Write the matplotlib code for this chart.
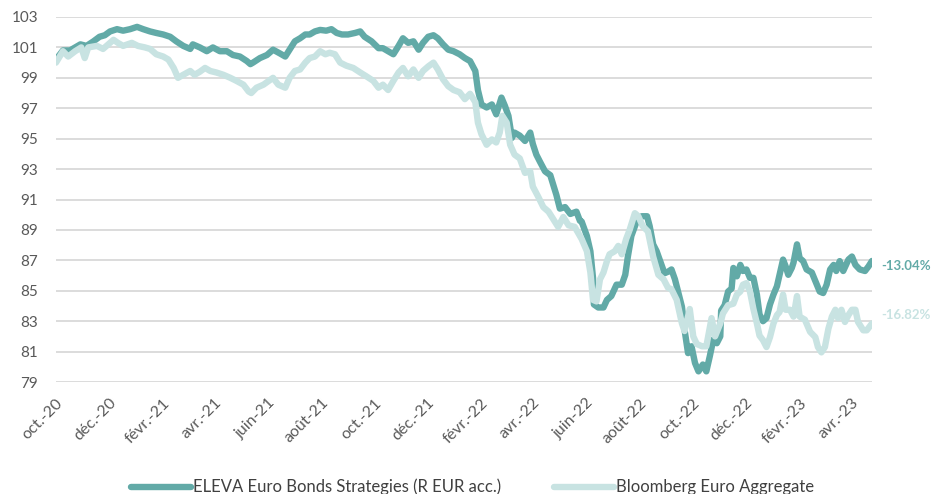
import matplotlib
matplotlib.use("Agg")
import matplotlib.pyplot as plt
import pandas as pd

plt.rcParams['font.family'] = ['Lato', 'DejaVu Sans']

eleva_dates = [
    "2020-10-01", "2020-10-09", "2020-10-17", "2020-10-29", "2020-11-05", "2020-11-13", "2020-11-20",
    "2020-11-26", "2020-12-02", "2020-12-10", "2020-12-17", "2020-12-25", "2021-01-02", "2021-01-09",
    "2021-01-17", "2021-01-24", "2021-02-01", "2021-02-09", "2021-02-16", "2021-02-24", "2021-03-04",
    "2021-03-07", "2021-03-15", "2021-03-23", "2021-03-30", "2021-04-07", "2021-04-15", "2021-04-22",
    "2021-04-30", "2021-05-08", "2021-05-12", "2021-05-15", "2021-05-23", "2021-05-31", "2021-06-07",
    "2021-06-15", "2021-06-21", "2021-06-26", "2021-07-02", "2021-07-08", "2021-07-14", "2021-07-19",
    "2021-07-25", "2021-07-31", "2021-08-07", "2021-08-13", "2021-08-19", "2021-08-25", "2021-09-01",
    "2021-09-09", "2021-09-15", "2021-09-20", "2021-09-28", "2021-10-06", "2021-10-11", "2021-10-17",
    "2021-10-23", "2021-10-29", "2021-11-03", "2021-11-09", "2021-11-15", "2021-11-21", "2021-11-26",
    "2021-12-02", "2021-12-08", "2021-12-13", "2021-12-19", "2021-12-25", "2021-12-31", "2022-01-07",
    "2022-01-13", "2022-01-19", "2022-01-25", "2022-01-28", "2022-02-01", "2022-02-07", "2022-02-13",
    "2022-02-18", "2022-02-24", "2022-02-28", "2022-03-04", "2022-03-08", "2022-03-11", "2022-03-17",
    "2022-03-23", "2022-03-29", "2022-04-01", "2022-04-05", "2022-04-09", "2022-04-15", "2022-04-21",
    "2022-04-24", "2022-04-28", "2022-05-02", "2022-05-08", "2022-05-14", "2022-05-21", "2022-05-25",
    "2022-05-27", "2022-06-02", "2022-06-06", "2022-06-09", "2022-06-10", "2022-06-15", "2022-06-21",
    "2022-06-25", "2022-06-30", "2022-07-06", "2022-07-12", "2022-07-16", "2022-07-19", "2022-07-23",
    "2022-07-29", "2022-08-04", "2022-08-10", "2022-08-13", "2022-08-17", "2022-08-21", "2022-08-25",
    "2022-08-30", "2022-09-03", "2022-09-07", "2022-09-11", "2022-09-15", "2022-09-19", "2022-09-22",
    "2022-09-26", "2022-09-30", "2022-10-04", "2022-10-08", "2022-10-13", "2022-10-17", "2022-10-21",
    "2022-10-25", "2022-10-29", "2022-11-02", "2022-11-03", "2022-11-07", "2022-11-11", "2022-11-15",
    "2022-11-17", "2022-11-21", "2022-11-25", "2022-11-28", "2022-12-02", "2022-12-06", "2022-12-10",
    "2022-12-14", "2022-12-17", "2022-12-21", "2022-12-25", "2022-12-29", "2023-01-02", "2023-01-06",
    "2023-01-09", "2023-01-13", "2023-01-16", "2023-01-19", "2023-01-23", "2023-01-25", "2023-01-29",
    "2023-02-01", "2023-02-05", "2023-02-09", "2023-02-15", "2023-02-20", "2023-02-24", "2023-02-28",
    "2023-03-04", "2023-03-08", "2023-03-12", "2023-03-15", "2023-03-19", "2023-03-23", "2023-03-29",
    "2023-04-02", "2023-04-06", "2023-04-11", "2023-04-17", "2023-04-21", "2023-04-25",
]
eleva_values = [
    100.2, 100.8, 100.8, 101.2, 101.1, 101.4, 101.7,
    101.8, 102.05, 102.2, 102.1, 102.2, 102.35, 102.2,
    102.05, 101.95, 101.85, 101.7, 101.4, 101.1, 100.9,
    101.2, 101.0, 100.75, 101.0, 100.75, 100.75, 100.5,
    100.4, 100.1, 99.9, 100.0, 100.3, 100.5, 100.85,
    100.6, 100.4, 100.85, 101.4, 101.6, 101.85, 101.85,
    102.05, 102.15, 102.1, 102.2, 101.95, 101.85, 101.85,
    101.95, 102.05, 101.7, 101.4, 100.95, 100.95, 100.75,
    100.55, 101.1, 101.6, 101.3, 101.4, 100.85, 101.3,
    101.7, 101.8, 101.6, 101.2, 100.85, 100.75, 100.55,
    100.3, 100.1, 99.45, 98.2, 97.25, 97.05, 97.25,
    96.6, 97.7, 97.15, 96.5, 95.05, 95.4, 95.2,
    94.85, 95.4, 94.65, 93.95, 93.5, 92.85, 92.6,
    92.05, 91.3, 90.4, 90.5, 90.05, 90.2, 89.6,
    89.55, 88.6, 87.6, 85.85, 84.1, 83.9, 83.9,
    84.4, 84.65, 85.4, 85.4, 86.05, 87.25, 88.6,
    89.55, 89.9, 89.9, 89.25, 88.05, 87.6, 86.95,
    86.15, 86.25, 86.4, 85.75, 84.85, 83.95, 82.45,
    80.9, 81.35, 80.25, 79.7, 80.15, 79.7, 80.7,
    81.8, 81.55, 82.0, 83.7, 84.05, 84.95, 85.15,
    86.5, 85.95, 86.7, 86.3, 86.4, 85.85, 85.85,
    84.75, 83.45, 83.0, 83.2, 84.1, 84.75, 85.3,
    86.05, 87.05, 86.6, 86.05, 86.5, 86.85, 88.05,
    87.15, 86.95, 86.4, 86.2, 85.5, 84.95, 84.85,
    85.4, 86.4, 86.7, 86.3, 86.95, 86.3, 87.05,
    87.25, 86.7, 86.4, 86.3, 86.6, 86.96,
]

bbg_dates = [
    "2020-10-01", "2020-10-09", "2020-10-15", "2020-10-23", "2020-10-30", "2020-11-03", "2020-11-07",
    "2020-11-17", "2020-11-24", "2020-11-30", "2020-12-06", "2020-12-11", "2020-12-17", "2020-12-27",
    "2021-01-03", "2021-01-11", "2021-01-17", "2021-01-24", "2021-02-01", "2021-02-07", "2021-02-13",
    "2021-02-18", "2021-02-24", "2021-03-04", "2021-03-09", "2021-03-15", "2021-03-21", "2021-03-27",
    "2021-04-03", "2021-04-11", "2021-04-19", "2021-04-26", "2021-05-04", "2021-05-10", "2021-05-13",
    "2021-05-19", "2021-05-27", "2021-06-07", "2021-06-13", "2021-06-21", "2021-06-26", "2021-07-02",
    "2021-07-08", "2021-07-14", "2021-07-19", "2021-07-25", "2021-07-31", "2021-08-06", "2021-08-11",
    "2021-08-17", "2021-08-23", "2021-08-30", "2021-09-07", "2021-09-15", "2021-09-22", "2021-09-30",
    "2021-10-06", "2021-10-11", "2021-10-17", "2021-10-23", "2021-10-29", "2021-11-03", "2021-11-09",
    "2021-11-15", "2021-11-21", "2021-11-26", "2021-12-02", "2021-12-08", "2021-12-13", "2021-12-19",
    "2021-12-25", "2021-12-31", "2022-01-07", "2022-01-13", "2022-01-19", "2022-01-25", "2022-01-28",
    "2022-02-01", "2022-02-07", "2022-02-13", "2022-02-18", "2022-02-22", "2022-02-25", "2022-03-02",
    "2022-03-06", "2022-03-11", "2022-03-17", "2022-03-23", "2022-03-29", "2022-04-01", "2022-04-07",
    "2022-04-13", "2022-04-19", "2022-04-24", "2022-04-30", "2022-05-06", "2022-05-12", "2022-05-19",
    "2022-05-27", "2022-06-02", "2022-06-06", "2022-06-09", "2022-06-13", "2022-06-17", "2022-06-21",
    "2022-06-25", "2022-06-28", "2022-07-04", "2022-07-08", "2022-07-12", "2022-07-17", "2022-07-21",
    "2022-07-27", "2022-07-31", "2022-08-05", "2022-08-11", "2022-08-17", "2022-08-23", "2022-08-29",
    "2022-09-03", "2022-09-07", "2022-09-13", "2022-09-19", "2022-09-22", "2022-09-28", "2022-10-02",
    "2022-10-06", "2022-10-12", "2022-10-17", "2022-10-23", "2022-10-27", "2022-11-02", "2022-11-05",
    "2022-11-11", "2022-11-17", "2022-11-21", "2022-11-25", "2022-11-28", "2022-12-02", "2022-12-06",
    "2022-12-10", "2022-12-14", "2022-12-17", "2022-12-21", "2022-12-25", "2022-12-29", "2023-01-02",
    "2023-01-06", "2023-01-09", "2023-01-13", "2023-01-16", "2023-01-21", "2023-01-25", "2023-01-29",
    "2023-02-01", "2023-02-07", "2023-02-13", "2023-02-19", "2023-02-22", "2023-02-26", "2023-03-02",
    "2023-03-06", "2023-03-10", "2023-03-14", "2023-03-17", "2023-03-21", "2023-03-25", "2023-03-29",
    "2023-04-02", "2023-04-06", "2023-04-09", "2023-04-15", "2023-04-19", "2023-04-25",
]
bbg_values = [
    100.0, 100.75, 100.4, 100.75, 101.0, 100.3, 101.0,
    101.1, 100.9, 101.2, 101.5, 101.3, 101.1, 101.3,
    101.1, 101.0, 100.9, 100.55, 100.4, 100.2, 99.65,
    99.0, 99.2, 99.45, 99.2, 99.4, 99.65, 99.45,
    99.35, 99.2, 99.0, 98.8, 98.55, 98.1, 98.0,
    98.35, 98.55, 99.0, 98.55, 98.35, 99.0, 99.45,
    99.55, 100.0, 100.3, 100.4, 100.75, 100.55, 100.65,
    100.55, 100.0, 99.8, 99.65, 99.35, 99.1, 98.8,
    98.35, 98.55, 98.2, 98.8, 99.35, 99.65, 99.1,
    99.55, 99.0, 99.45, 99.75, 100.0, 99.55, 98.9,
    98.45, 98.2, 98.05, 97.6, 97.95, 97.4, 96.05,
    95.3, 94.6, 94.95, 94.75, 95.4, 96.5, 96.05,
    94.6, 93.95, 93.7, 92.75, 92.85, 91.85, 91.2,
    90.5, 90.2, 89.75, 89.2, 89.85, 89.3, 89.2,
    88.4, 87.6, 86.2, 84.4, 84.3, 85.75, 86.2,
    86.95, 87.4, 87.6, 87.95, 87.4, 88.4, 89.0,
    90.1, 89.9, 89.25, 88.9, 87.25, 86.05, 85.75,
    85.2, 85.1, 84.4, 82.85, 82.35, 83.8, 82.0,
    81.5, 81.35, 81.35, 83.2, 82.0, 82.85, 83.5,
    84.05, 84.15, 84.75, 84.95, 85.4, 85.5, 84.95,
    83.8, 82.85, 82.05, 81.75, 81.3, 81.95, 82.85,
    83.4, 83.6, 84.75, 83.75, 83.75, 83.3, 84.65,
    83.3, 83.1, 82.3, 81.95, 81.3, 80.95, 81.3,
    82.5, 83.3, 83.75, 83.2, 83.75, 82.95, 83.4,
    83.75, 83.75, 82.95, 82.4, 82.4, 82.85,
]

series_names = ["ELEVA Euro Bonds Strategies (R EUR acc.)", "Bloomberg Euro Aggregate"]
end_labels = ["-13.04%", "-16.82%"]
tick_dates = ["2020-10-01", "2020-12-01", "2021-02-01", "2021-04-01", "2021-06-01", "2021-08-01",
              "2021-10-01", "2021-12-01", "2022-02-01", "2022-04-01", "2022-06-01", "2022-08-01",
              "2022-10-01", "2022-12-01", "2023-02-01", "2023-04-01"]
tick_labels = ["oct.-20", "déc.-20", "févr.-21", "avr.-21", "juin-21", "août-21", "oct.-21", "déc.-21",
               "févr.-22", "avr.-22", "juin-22", "août-22", "oct.-22", "déc.-22", "févr.-23", "avr.-23"]
y_ticks = [79, 81, 83, 85, 87, 89, 91, 93, 95, 97, 99, 101, 103]

dark = "#62AAA7"
light = "#C8E3E2"

fig = plt.figure(figsize=(9.36, 4.94), dpi=100)
ax = fig.add_axes([0.0598, 0.2267, 0.8718, 0.7389])

ax.plot(pd.to_datetime(eleva_dates), eleva_values, color=dark, lw=4.6, solid_joinstyle='round',
        solid_capstyle='round', label=series_names[0], zorder=3)
ax.plot(pd.to_datetime(bbg_dates), bbg_values, color=light, lw=4.6, solid_joinstyle='round',
        solid_capstyle='round', label=series_names[1], zorder=4)

ax.set_ylim(79, 103)
ax.set_xlim(pd.Timestamp("2020-10-01"), pd.Timestamp("2023-04-25"))
ax.set_yticks(y_ticks)
ax.set_yticklabels([str(v) for v in y_ticks])
ax.set_xticks(pd.to_datetime(tick_dates))
ax.set_xticklabels(tick_labels, rotation=45, ha='right', va='top', rotation_mode='anchor')
ax.tick_params(axis='both', length=0, colors="#595959")
ax.tick_params(axis='y', pad=13, labelsize=11)
ax.tick_params(axis='x', pad=10, labelsize=11.5)
ax.grid(axis='y', color="#D9D9D9", lw=1.3, zorder=0)
ax.set_axisbelow(True)
for s in ax.spines.values():
    s.set_visible(False)

ax.annotate(end_labels[0], xy=(1.0, 86.6), xycoords=('axes fraction', 'data'), xytext=(7, 0),
            textcoords='offset points', color=dark, fontsize=9.5, fontweight='bold', va='center',
            annotation_clip=False)
ax.annotate(end_labels[1], xy=(1.0, 83.4), xycoords=('axes fraction', 'data'), xytext=(7, 0),
            textcoords='offset points', color=light, fontsize=9.5, fontweight='bold', va='center',
            annotation_clip=False)

fig.legend(loc='center', bbox_to_anchor=(0.505, 0.014), ncol=2, frameon=False, fontsize=12,
           handlelength=3.6, handletextpad=0.1, columnspacing=3.2, labelcolor="#404040")

fig.savefig("out.png", dpi=100)
